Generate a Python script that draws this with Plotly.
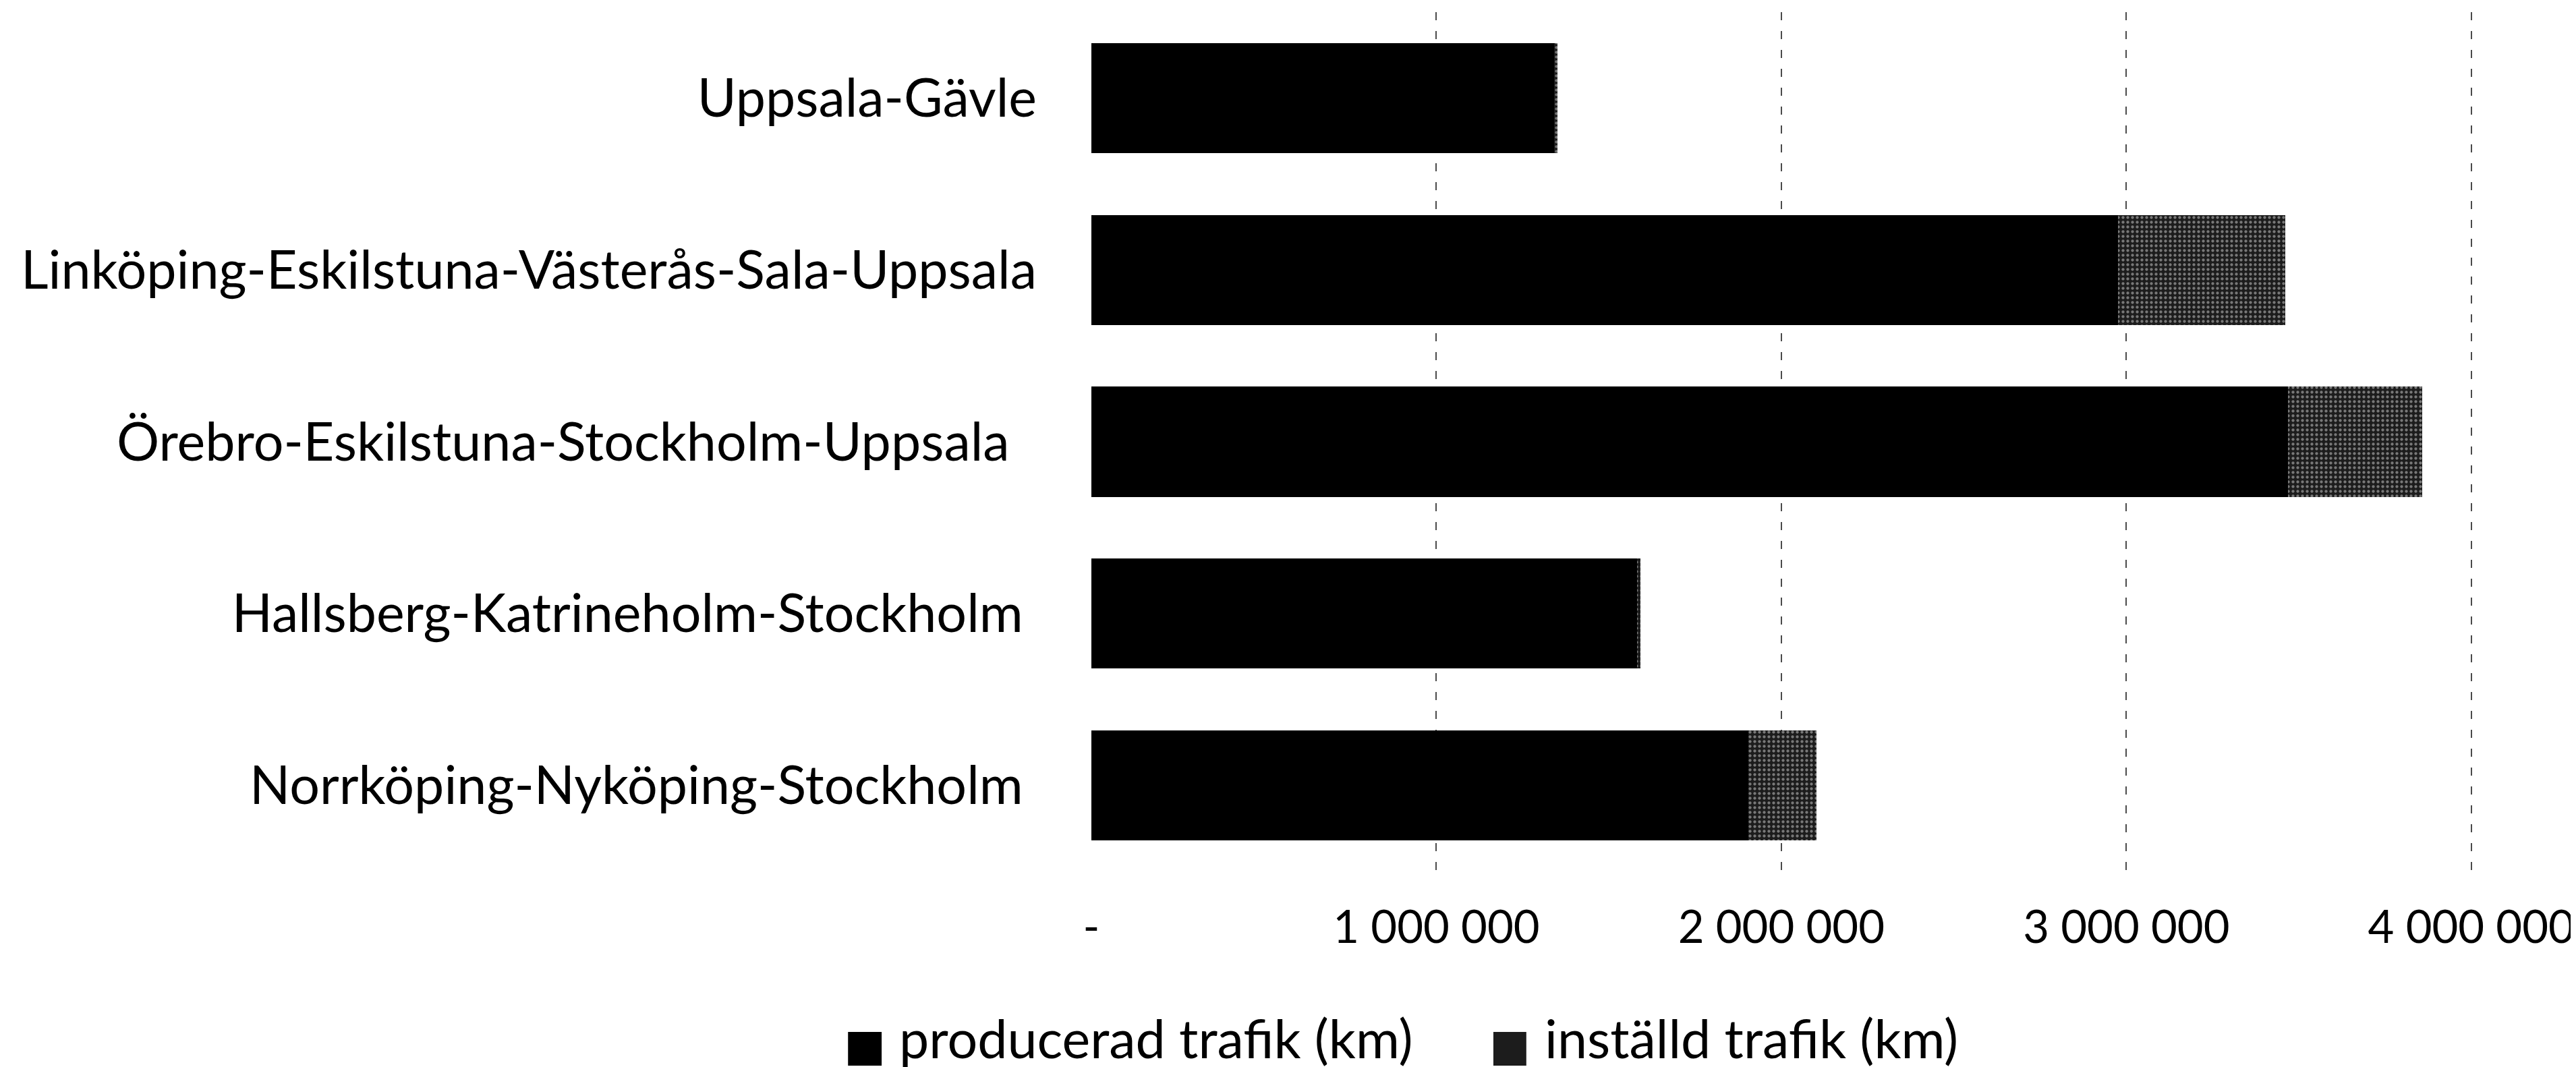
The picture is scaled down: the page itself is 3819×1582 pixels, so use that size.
import plotly.graph_objects as go

# ---- data ----
routes = [
    "Uppsala-Gävle",
    "Linköping-Eskilstuna-Västerås-Sala-Uppsala",
    "Örebro-Eskilstuna-Stockholm-Uppsala\u00a0\u00a0",
    "Hallsberg-Katrineholm-Stockholm\u00a0",
    "Norrköping-Nyköping-Stockholm\u00a0",
]
producerad = [1342000, 2975000, 3468000, 1582000, 1904000]
installd = [10000, 485000, 390000, 10000, 198000]
series_names = ["producerad trafik (km)", "inställd trafik (km)"]
tick_vals = [0, 1000000, 2000000, 3000000, 4000000]
tick_text = ["-", "1 000 000", "2 000 000", "3 000 000", "4 000 000"]

# ---- layout geometry (pixels) ----
W, H = 3819, 1582
X_MAX = 4020000
ZERO_PX, FOUR_M_PX = 1610, 3663
L, T, B = ZERO_PX, 10, 298
PW = round((FOUR_M_PX - ZERO_PX) * X_MAX / 4000000)
R = W - L - PW
PH = H - T - B
FONT = "Lato, 'Open Sans', sans-serif"


def px_x(px):
    return (px - L) / PW


def px_y(py):
    return (H - B - py) / PH


fig = go.Figure()
fig.add_trace(go.Bar(
    y=routes, x=producerad, orientation="h", name=series_names[0],
    marker=dict(color="#000000", line=dict(width=0)), showlegend=False,
))
fig.add_trace(go.Bar(
    y=routes, x=installd, orientation="h", name=series_names[1],
    marker=dict(color="#1c1c1c", line=dict(width=0),
                pattern=dict(shape=".", fgcolor="#d4d4d4", size=7, solidity=0.3)),
    showlegend=False,
))

# legend built from squares + text (sized like the original)
legend_items = [
    (1248, 1298, 1322, "#000000", series_names[0]),
    (2208, 2257, 2282, "#1c1c1c", series_names[1]),
]
shapes = []
annotations = []
for x0, x1, tx, col, name in legend_items:
    shapes.append(dict(type="rect", xref="paper", yref="paper",
                       x0=px_x(x0), x1=px_x(x1), y0=px_y(1572), y1=px_y(1522),
                       fillcolor=col, line=dict(width=0)))
    annotations.append(dict(text=name, xref="paper", yref="paper",
                            x=px_x(tx), y=px_y(1531), xanchor="left", yanchor="middle",
                            showarrow=False, font=dict(family=FONT, size=79, color="#000")))

fig.update_layout(
    width=W, height=H, autosize=False,
    margin=dict(l=L, r=R, t=T, b=B),
    barmode="stack", bargap=0.36,
    paper_bgcolor="white", plot_bgcolor="white",
    font=dict(family=FONT, color="#000"),
    shapes=shapes, annotations=annotations,
)
fig.update_xaxes(
    range=[0, X_MAX], tickvals=tick_vals, ticktext=tick_text,
    showgrid=True, gridcolor="#4a4a4a", gridwidth=2, griddash="12px,16px",
    zeroline=False, showline=False, ticks="", ticklabelstandoff=38,
    ticklabeloverflow="allow",
    tickfont=dict(family=FONT, size=67, color="#000"),
)
fig.update_yaxes(
    autorange="reversed", showgrid=False, showline=False, ticks="",
    ticklabelstandoff=80,
    tickfont=dict(family=FONT, size=79, color="#000"),
)

fig.write_html("out.html")
